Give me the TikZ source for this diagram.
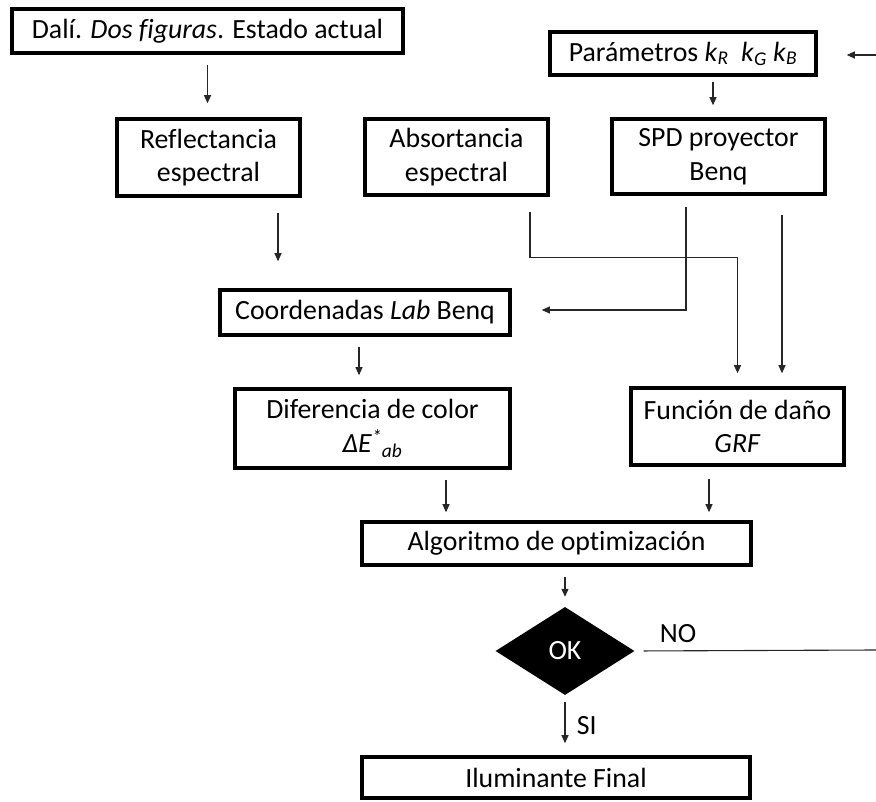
\documentclass[tikz,border=0pt]{standalone}
\usepackage{fontspec}
\setmainfont{Carlito}[Ligatures=NoCommon]
\usetikzlibrary{shapes.geometric,arrows.meta,calc}

\tikzset{
  txt/.style={font=\fontsize{27.8}{33.5}\selectfont},
  box/.style={txt, draw, line width=3.6pt, rectangle, inner sep=0pt, align=center},
  decision/.style={txt, diamond, fill=black, text=white, inner sep=0pt,
                   minimum width=139pt, minimum height=88pt},
  arr/.style={-{Triangle[length=8pt,width=7pt]}, line width=1.1pt, draw=black!85},
  plain/.style={line width=1.1pt, draw=black!85},
}

\begin{document}
\begin{tikzpicture}[x=1pt,y=-1pt]
  \useasboundingbox (0,0) rectangle (876,802);

  % process boxes
  \node[box, minimum width=391pt, minimum height=44pt] (dali) at (207.5,31)
    {Dalí. \textit{Dos figuras}. Estado actual};
  \node[box, minimum width=266pt, minimum height=43pt] (param) at (683,53.5)
    {Parámetros \textit{k}\textsubscript{\textit{R}}\ \ \textit{k}\textsubscript{\textit{G}} \textit{k}\textsubscript{\textit{B}}};
  \node[box, minimum width=183pt, minimum height=77pt] (refl) at (208.5,157.5)
    {Reflectancia\\espectral};
  \node[box, minimum width=183pt, minimum height=76pt] (abs) at (456.5,157)
    {Absortancia\\espectral};
  \node[box, minimum width=213pt, minimum height=75pt] (spd) at (718.5,156.5)
    {SPD proyector\\Benq};
  \node[box, minimum width=290pt, minimum height=45pt] (coord) at (365,312.5)
    {Coordenadas \textit{Lab} Benq};
  \node[box, minimum width=275pt, minimum height=79pt] (dif) at (372.5,428.5)
    {Diferencia de color\\\textit{ΔE\textsuperscript{*}\textsubscript{ab}}};
  \node[box, minimum width=213pt, minimum height=77pt] (func) at (737.5,426.5)
    {Función de daño\\\textit{GRF}};
  \node[box, minimum width=389pt, minimum height=43pt] (algo) at (556.5,543.5)
    {Algoritmo de optimización};
  \node[decision] (ok) at (565,651) {OK};
  \node[box, minimum width=388pt, minimum height=41pt] (ilum) at (556,777.5)
    {Iluminante Final};

  % loose ends of the feedback loop
  \coordinate (loopB) at (876,650);
  \coordinate (loopT) at (876,55);

  % attachment points on the box edges
  \coordinate (reflOut)  at ($(refl.south)+(69.5,0)$);
  \coordinate (paramOut) at ($(param.south)+(30,0)$);
  \coordinate (absOut)   at ($(abs.south)+(73.5,0)$);
  \coordinate (spdOutA)  at ($(spd.south)+(-32.5,0)$);
  \coordinate (spdOutB)  at ($(spd.south)+(63.5,0)$);
  \coordinate (coordOut) at ($(coord.south)+(-6,0)$);
  \coordinate (coordIn)  at ($(coord.east)+(0,-2.5)$);
  \coordinate (difOut)   at ($(dif.south)+(73.5,0)$);
  \coordinate (funcOut)  at ($(func.south)+(-28.5,0)$);
  \coordinate (algoOut)  at ($(algo.south)+(8.5,0)$);
  \coordinate (absBend)  at ($(abs.south)+(73.5,61)$);

  % connectors
  \draw[arr, shorten <=10pt, shorten >=14pt] (dali.south) -- (dali.south |- refl.north);
  \draw[arr, shorten <=15pt, shorten >=27pt] (reflOut) -- (reflOut |- coord.north);
  \draw[arr, shorten >=29pt] (loopT) -- (param.east |- loopT);
  \draw[arr, shorten <=5pt, shorten >=12pt] (paramOut) -- (paramOut |- spd.north);
  \draw[arr, shorten <=15pt, shorten >=13pt] (absOut) -- (absBend) -| (func.north);
  \draw[arr, shorten <=11pt, shorten >=30pt] (spdOutA) |- (coordIn);
  \draw[arr, shorten <=19pt, shorten >=13pt] (spdOutB) -- (spdOutB |- func.north);
  \draw[arr, shorten <=10pt, shorten >=12pt] (coordOut) -- (coordOut |- dif.north);
  \draw[arr, shorten <=10pt, shorten >=8pt] (difOut) -- (difOut |- algo.north);
  \draw[arr, shorten <=12pt, shorten >=8pt] (funcOut) -- (funcOut |- algo.north);
  \draw[arr, shorten <=10pt, shorten >=10pt] (algoOut) -- (algoOut |- ok.north);
  \draw[arr, shorten <=7pt, shorten >=12pt] (ok.south) -- (ok.south |- ilum.north)
    node[txt, midway, right=8pt] {SI};
  \draw[plain, shorten <=9pt] (ok.east) -- (loopB)
    node[txt, pos=0.18, above=4pt] {NO};
\end{tikzpicture}
\end{document}
